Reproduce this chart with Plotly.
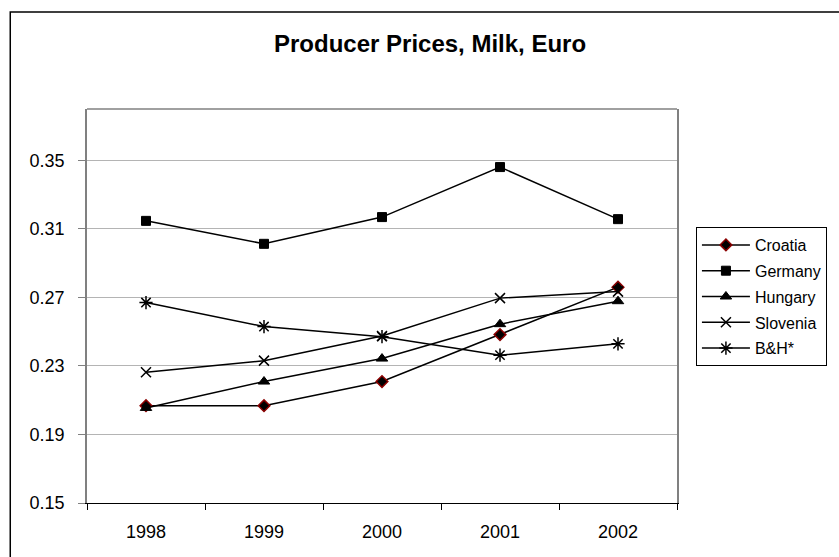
import plotly.graph_objects as go

years = ["1998", "1999", "2000", "2001", "2002"]
croatia = [0.2068, 0.2068, 0.2209, 0.2483, 0.2760]
germany = [0.3147, 0.3013, 0.3169, 0.3461, 0.3157]
hungary = [0.2055, 0.2209, 0.2343, 0.2544, 0.2678]
slovenia = [0.2263, 0.2331, 0.2475, 0.2696, 0.2734]
bh = [0.2670, 0.2530, 0.2471, 0.2363, 0.2429]
y_ticks = [0.15, 0.19, 0.23, 0.27, 0.31, 0.35]

FONT = "Liberation Sans, Arial, sans-serif"

fig = go.Figure()

def add(name, vals, symbol, size, fill, outline, lw=1):
    fig.add_trace(go.Scatter(
        x=years, y=vals, name=name, mode="lines+markers", legendgroup=name,
        line=dict(color="black", width=1.5),
        marker=dict(symbol=symbol, size=size, color=fill,
                    line=dict(color=outline, width=lw)),
    ))

add("Croatia", croatia, "diamond", 9, "black", "#8B0000", 1.5)
add("Germany", germany, "square", 9, "black", "black", 1)
add("Hungary", hungary, "triangle-up", 10, "black", "black", 1)
add("Slovenia", slovenia, "x-thin", 10, "black", "black", 1.5)
add("B&H*", bh, "asterisk", 11, "black", "black", 1.5)

L, R, T, B = 87, 679, 109, 503
W, H = 839, 557
pw, ph = R - L, B - T

def px(x):
    return (x - L) / pw

def py(y):
    return (B - y) / ph

fig.update_layout(
    width=W, height=H,
    margin=dict(l=L, r=W - R, t=T, b=H - B, pad=0),
    paper_bgcolor="white", plot_bgcolor="white",
    font=dict(family=FONT, size=16, color="black"),
    showlegend=True,
    legend=dict(
        x=px(698), y=py(227), xanchor="left", yanchor="top",
        bordercolor="black", borderwidth=1, bgcolor="white",
        font=dict(family=FONT, size=16, color="black"),
        tracegroupgap=2, traceorder="grouped", itemwidth=48,
    ),
    xaxis=dict(
        type="category", range=[-0.5, 4.5],
        tickson="boundaries", ticks="outside", ticklen=6, tickcolor="black",
        showline=True, linecolor="black", linewidth=1,
        showgrid=False, zeroline=False,
        tickfont=dict(family=FONT, size=18, color="black"),
        ticklabelstandoff=12,
    ),
    yaxis=dict(
        range=[0.15, 0.38], tickvals=y_ticks, tickformat=".2f",
        ticks="outside", ticklen=7, tickcolor="#808080",
        showline=True, linecolor="#808080", linewidth=1.5, mirror=True,
        showgrid=True, gridcolor="#b4b4b4", gridwidth=1,
        zeroline=False,
        tickfont=dict(family=FONT, size=18, color="black"),
        ticklabelstandoff=10,
    ),
    annotations=[dict(
        text="<b>Producer Prices, Milk, Euro</b>",
        x=px(431), y=py(44), xref="paper", yref="paper",
        xanchor="center", yanchor="middle", showarrow=False,
        font=dict(family=FONT, size=24, color="black"),
    )],
    shapes=[
        dict(type="line", xref="paper", yref="paper", x0=0, x1=1, y0=1, y1=1,
             line=dict(color="#808080", width=1.5)),
        dict(type="rect", xref="paper", yref="paper",
             x0=px(10), x1=px(860), y0=py(575), y1=py(12),
             line=dict(color="black", width=1.5), layer="below"),
    ],
)

fig.write_html("out.html")
